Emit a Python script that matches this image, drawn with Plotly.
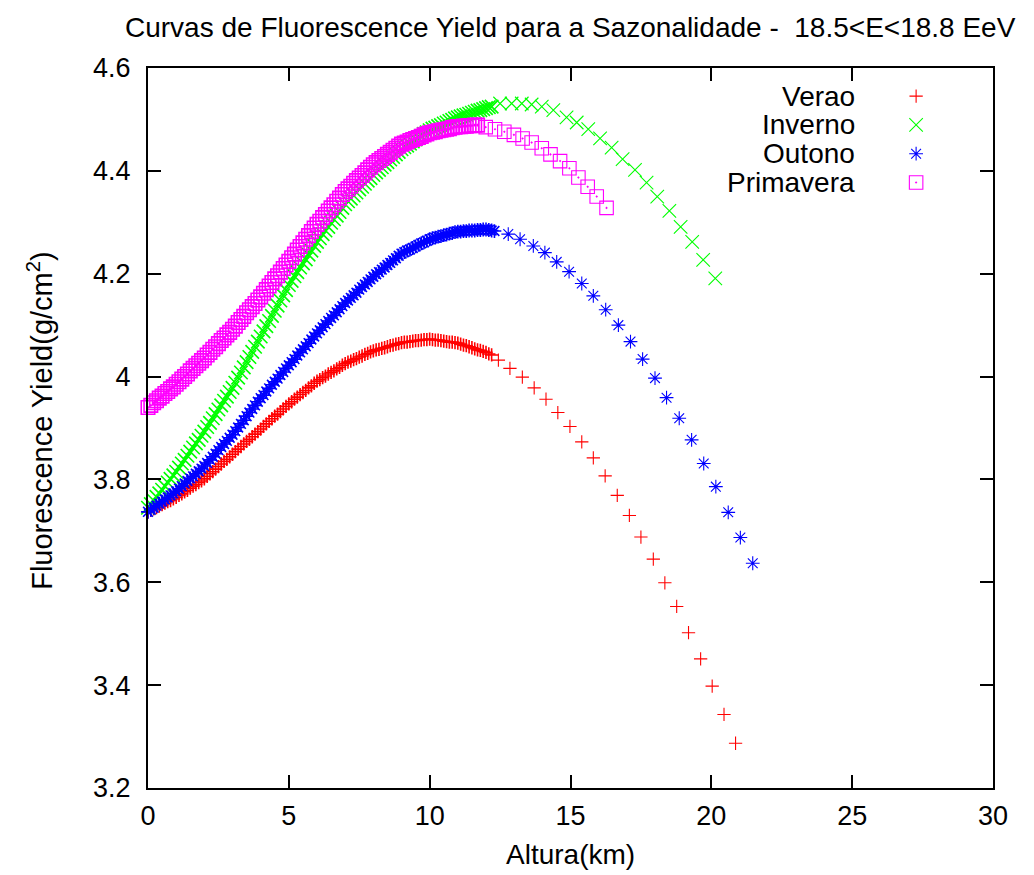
import plotly.graph_objects as go

# ---------------- data ----------------
series_names = ["Verao", "Inverno", "Outono", "Primavera"]

# dense altitude grid (km) for the low-altitude part of each curve
alt_dense = [
    0.0, 0.1, 0.2, 0.3, 0.4, 0.5, 0.6, 0.7, 0.8, 0.9,
    1.0, 1.1, 1.2, 1.3, 1.4, 1.5, 1.6, 1.7, 1.8, 1.9,
    2.0, 2.1, 2.2, 2.3, 2.4, 2.5, 2.6, 2.7, 2.8, 2.9,
    3.0, 3.1, 3.2, 3.3, 3.4, 3.5, 3.6, 3.7, 3.8, 3.9,
    4.0, 4.1, 4.2, 4.3, 4.4, 4.5, 4.6, 4.7, 4.8, 4.9,
    5.0, 5.1, 5.2, 5.3, 5.4, 5.5, 5.6, 5.7, 5.8, 5.9,
    6.0, 6.1, 6.2, 6.3, 6.4, 6.5, 6.6, 6.7, 6.8, 6.9,
    7.0, 7.1, 7.2, 7.3, 7.4, 7.5, 7.6, 7.7, 7.8, 7.9,
    8.0, 8.1, 8.2, 8.3, 8.4, 8.5, 8.6, 8.7, 8.8, 8.9,
    9.0, 9.1, 9.2, 9.3, 9.4, 9.5, 9.6, 9.7, 9.8, 9.9,
    10.0, 10.1, 10.2, 10.3, 10.4, 10.5, 10.6, 10.7, 10.8, 10.9,
    11.0, 11.1, 11.2, 11.3, 11.4, 11.5, 11.6, 11.7, 11.8, 11.9,
    12.0, 12.1, 12.2, 12.3,
]

verao_dense = [
    3.737, 3.740, 3.743, 3.745, 3.748, 3.751, 3.754, 3.757, 3.759, 3.762,
    3.765, 3.769, 3.772, 3.776, 3.779, 3.783, 3.787, 3.790, 3.794, 3.797,
    3.801, 3.806, 3.811, 3.815, 3.820, 3.825, 3.830, 3.835, 3.839, 3.844,
    3.849, 3.854, 3.859, 3.864, 3.869, 3.874, 3.878, 3.883, 3.888, 3.893,
    3.898, 3.903, 3.908, 3.913, 3.918, 3.923, 3.927, 3.932, 3.937, 3.942,
    3.947, 3.951, 3.956, 3.960, 3.965, 3.969, 3.973, 3.978, 3.982, 3.987,
    3.991, 3.994, 3.998, 4.001, 4.005, 4.008, 4.011, 4.015, 4.018, 4.022,
    4.025, 4.028, 4.030, 4.033, 4.035, 4.038, 4.040, 4.043, 4.045, 4.048,
    4.050, 4.052, 4.053, 4.055, 4.056, 4.058, 4.060, 4.061, 4.063, 4.064,
    4.066, 4.067, 4.067, 4.068, 4.069, 4.070, 4.070, 4.071, 4.072, 4.072,
    4.073, 4.072, 4.071, 4.071, 4.070, 4.069, 4.068, 4.067, 4.067, 4.066,
    4.065, 4.063, 4.061, 4.060, 4.058, 4.056, 4.054, 4.052, 4.051, 4.049,
    4.047, 4.044, 4.042,
]
verao_tail_alt = [12.44, 12.85, 13.29, 13.71, 14.13, 14.55, 14.98, 15.40, 15.81, 16.23,
                  16.66, 17.09, 17.50, 17.94, 18.35, 18.77, 19.19, 19.62, 20.03, 20.45, 20.86]
verao_tail_fy = [4.032, 4.016, 3.999, 3.978, 3.956, 3.930, 3.903, 3.873, 3.842, 3.807,
                 3.769, 3.730, 3.688, 3.645, 3.599, 3.553, 3.502, 3.451, 3.398, 3.343, 3.287]

inverno_dense = [
    3.745, 3.752, 3.759, 3.766, 3.773, 3.780, 3.787, 3.794, 3.801, 3.808,
    3.815, 3.823, 3.831, 3.838, 3.846, 3.854, 3.862, 3.870, 3.877, 3.885,
    3.893, 3.902, 3.910, 3.919, 3.927, 3.936, 3.944, 3.953, 3.961, 3.970,
    3.978, 3.988, 3.998, 4.008, 4.018, 4.028, 4.038, 4.048, 4.058, 4.068,
    4.078, 4.088, 4.098, 4.108, 4.118, 4.128, 4.138, 4.148, 4.158, 4.168,
    4.178, 4.186, 4.195, 4.203, 4.212, 4.220, 4.228, 4.237, 4.245, 4.254,
    4.262, 4.269, 4.277, 4.284, 4.291, 4.299, 4.306, 4.313, 4.320, 4.328,
    4.335, 4.341, 4.346, 4.352, 4.358, 4.364, 4.369, 4.375, 4.381, 4.386,
    4.392, 4.397, 4.402, 4.407, 4.412, 4.417, 4.422, 4.427, 4.432, 4.437,
    4.442, 4.446, 4.449, 4.453, 4.457, 4.461, 4.464, 4.468, 4.472, 4.475,
    4.479, 4.482, 4.484, 4.487, 4.489, 4.492, 4.494, 4.497, 4.499, 4.502,
    4.504, 4.506, 4.508, 4.509, 4.511, 4.513, 4.515, 4.517, 4.518, 4.520,
    4.522, 4.524, 4.525,
]
inverno_tail_alt = [12.50, 12.91, 13.27, 13.62, 13.98, 14.39, 14.86, 15.22, 15.63, 16.05,
                    16.46, 16.85, 17.29, 17.70, 18.08, 18.51, 18.91, 19.32, 19.71, 20.14]
inverno_tail_fy = [4.531, 4.531, 4.531, 4.529, 4.525, 4.518, 4.504, 4.494, 4.481, 4.463,
                   4.445, 4.423, 4.402, 4.377, 4.350, 4.322, 4.291, 4.262, 4.227, 4.191]

outono_dense = [
    3.737, 3.741, 3.745, 3.749, 3.753, 3.757, 3.761, 3.765, 3.769, 3.773,
    3.777, 3.782, 3.787, 3.792, 3.797, 3.802, 3.806, 3.811, 3.816, 3.821,
    3.826, 3.832, 3.838, 3.844, 3.850, 3.857, 3.863, 3.869, 3.875, 3.881,
    3.887, 3.894, 3.901, 3.908, 3.915, 3.923, 3.930, 3.937, 3.944, 3.951,
    3.958, 3.964, 3.971, 3.977, 3.984, 3.990, 3.996, 4.003, 4.009, 4.016,
    4.022, 4.028, 4.034, 4.041, 4.047, 4.053, 4.059, 4.065, 4.072, 4.078,
    4.084, 4.090, 4.096, 4.102, 4.108, 4.114, 4.119, 4.125, 4.131, 4.137,
    4.143, 4.148, 4.153, 4.158, 4.163, 4.169, 4.174, 4.179, 4.184, 4.189,
    4.194, 4.199, 4.203, 4.208, 4.212, 4.217, 4.221, 4.226, 4.230, 4.235,
    4.239, 4.242, 4.245, 4.247, 4.250, 4.253, 4.256, 4.259, 4.261, 4.264,
    4.267, 4.269, 4.270, 4.272, 4.273, 4.275, 4.276, 4.278, 4.279, 4.281,
    4.282, 4.282, 4.283, 4.283, 4.284, 4.284, 4.284, 4.285, 4.285, 4.286,
    4.286, 4.285, 4.284, 4.283,
]
outono_tail_alt = [12.79, 13.21, 13.68, 14.09, 14.51, 14.95, 15.40, 15.81, 16.25, 16.70,
                   17.13, 17.56, 18.00, 18.41, 18.86, 19.30, 19.73, 20.16, 20.60, 21.03, 21.47]
outono_tail_fy = [4.277, 4.267, 4.254, 4.241, 4.223, 4.204, 4.181, 4.157, 4.130, 4.100,
                  4.068, 4.034, 3.997, 3.959, 3.919, 3.877, 3.831, 3.786, 3.736, 3.687, 3.637]

primavera_dense = [
    3.940, 3.944, 3.949, 3.953, 3.958, 3.962, 3.967, 3.971, 3.976, 3.980,
    3.985, 3.990, 3.995, 4.000, 4.005, 4.011, 4.016, 4.021, 4.026, 4.031,
    4.036, 4.042, 4.047, 4.053, 4.058, 4.064, 4.070, 4.075, 4.081, 4.086,
    4.092, 4.098, 4.105, 4.111, 4.117, 4.124, 4.130, 4.136, 4.142, 4.149,
    4.155, 4.162, 4.169, 4.176, 4.183, 4.190, 4.196, 4.203, 4.210, 4.217,
    4.224, 4.231, 4.238, 4.246, 4.253, 4.260, 4.267, 4.274, 4.282, 4.289,
    4.296, 4.302, 4.309, 4.315, 4.322, 4.328, 4.334, 4.341, 4.347, 4.354,
    4.360, 4.365, 4.370, 4.376, 4.381, 4.386, 4.391, 4.396, 4.402, 4.407,
    4.412, 4.416, 4.420, 4.424, 4.428, 4.432, 4.436, 4.440, 4.444, 4.448,
    4.452, 4.454, 4.456, 4.459, 4.461, 4.463, 4.465, 4.467, 4.470, 4.472,
    4.474, 4.475, 4.476, 4.478, 4.479, 4.480, 4.481, 4.482, 4.484, 4.485,
    4.486, 4.486, 4.487, 4.487, 4.488, 4.488, 4.489, 4.489,
]
primavera_tail_alt = [11.99, 12.32, 12.65, 12.99, 13.30, 13.62, 13.98, 14.29, 14.63, 14.96,
                      15.28, 15.61, 15.93, 16.28]
primavera_tail_fy = [4.485, 4.481, 4.476, 4.470, 4.463, 4.455, 4.444, 4.432, 4.419, 4.405,
                     4.387, 4.369, 4.350, 4.328]

y_tickvals = [3.2, 3.4, 3.6, 3.8, 4.0, 4.2, 4.4, 4.6]
x_tickvals = [0, 5, 10, 15, 20, 25, 30]

# ---------------- styling ----------------
FONT = "Liberation Sans, Arial, Helvetica, sans-serif"
styles = {
    "Verao": dict(symbol="cross-thin", size=9.5, color="#ff0000"),
    "Inverno": dict(symbol="x-thin", size=13.5, color="#00ff00"),
    "Outono": dict(symbol="asterisk", size=11.5, color="#0000ff"),
    "Primavera": dict(symbol="square-open-dot", size=13.5, color="#ff00ff"),
}
dense = {
    "Verao": verao_dense, "Inverno": inverno_dense,
    "Outono": outono_dense, "Primavera": primavera_dense,
}
tails = {
    "Verao": (verao_tail_alt, verao_tail_fy),
    "Inverno": (inverno_tail_alt, inverno_tail_fy),
    "Outono": (outono_tail_alt, outono_tail_fy),
    "Primavera": (primavera_tail_alt, primavera_tail_fy),
}

fig = go.Figure()
for name in series_names:
    st = styles[name]
    yd = dense[name]
    # dense (fine-step) part: overlapping markers form a solid band
    fig.add_trace(go.Scatter(
        x=alt_dense[:len(yd)], y=yd, mode="markers", name=name, showlegend=False,
        cliponaxis=False,
        marker=dict(symbol=st["symbol"], size=st["size"], color=st["color"],
                    line=dict(color=st["color"], width=1.6)),
    ))
    # sparse part at high altitude
    fig.add_trace(go.Scatter(
        x=tails[name][0], y=tails[name][1], mode="markers", name=name, showlegend=False,
        cliponaxis=False,
        marker=dict(symbol=st["symbol"], size=st["size"], color=st["color"],
                    line=dict(color=st["color"], width=1.1)),
    ))

# custom gnuplot-style key: text right-aligned, symbol on the right
key_rows_y = [0.961, 0.921, 0.881, 0.841]
key_text_x = 0.839
key_sym_x = 0.909
for name, ky in zip(series_names, key_rows_y):
    st = styles[name]
    fig.add_trace(go.Scatter(
        x=[key_sym_x], y=[ky], xaxis="x2", yaxis="y2", mode="markers",
        showlegend=False, cliponaxis=False, hoverinfo="skip",
        marker=dict(symbol=st["symbol"], size=st["size"], color=st["color"],
                    line=dict(color=st["color"], width=1.1)),
    ))
    fig.add_annotation(x=key_text_x, y=ky, xref="paper", yref="paper",
                       text=name, showarrow=False, xanchor="right", yanchor="middle",
                       font=dict(family=FONT, size=28, color="black"))

axis_common = dict(
    showgrid=False, zeroline=False, showline=True, linecolor="black", linewidth=2,
    ticks="inside", ticklen=13, tickwidth=1.5, tickcolor="black", mirror="ticks",
    tickfont=dict(family=FONT, size=27, color="black"),
)
# the page body adds an 8 px offset, so the figure is 8 px smaller than the window
fig.update_layout(
    width=1026, height=867,
    margin=dict(l=140, r=41, t=60, b=87),
    paper_bgcolor="white", plot_bgcolor="white",
    xaxis=dict(range=[0, 30], tickvals=x_tickvals, ticklabelstandoff=3, **axis_common),
    yaxis=dict(range=[3.2, 4.6], tickvals=y_tickvals, ticklabelstandoff=10, **axis_common),
    xaxis2=dict(range=[0, 1], overlaying="x", visible=False, fixedrange=True),
    yaxis2=dict(range=[0, 1], overlaying="y", visible=False, fixedrange=True),
    font=dict(family=FONT, color="black"),
)

fig.add_annotation(x=0.5, y=1.0556, xref="paper", yref="paper", showarrow=False,
                   text="Curvas de Fluorescence Yield para a Sazonalidade -  18.5&lt;E&lt;18.8 EeV",
                   xanchor="center", yanchor="middle",
                   font=dict(family=FONT, size=28, color="black"))
fig.add_annotation(x=0.5, y=-0.093, xref="paper", yref="paper", showarrow=False,
                   text="Altura(km)", xanchor="center", yanchor="middle",
                   font=dict(family=FONT, size=28, color="black"))
fig.add_annotation(x=-0.1278, y=0.51, xref="paper", yref="paper", showarrow=False,
                   text="Fluorescence Yield(g/cm<sup>2</sup>)", textangle=-90,
                   xanchor="center", yanchor="middle",
                   font=dict(family=FONT, size=29, color="black"))

fig.write_html("out.html")
